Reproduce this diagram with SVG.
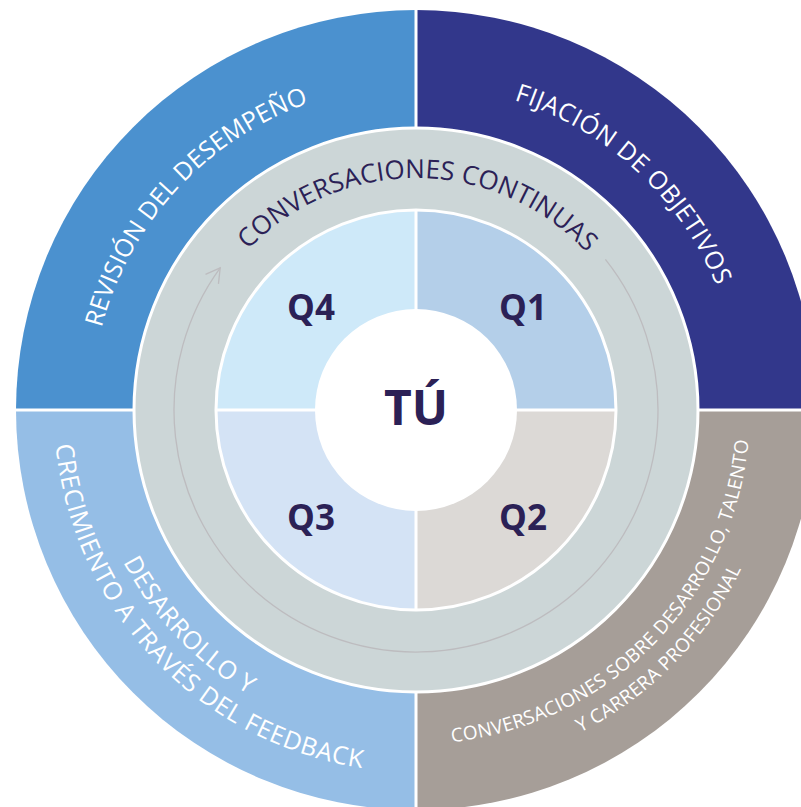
<svg xmlns="http://www.w3.org/2000/svg" width="801" height="807" viewBox="0 0 801 807">
<style>
.outer{font-family:"Open Sans","Noto Sans",sans-serif;font-size:25px;fill:#ffffff;}
.small{font-size:19px;letter-spacing:0.3px;}
.wide{letter-spacing:0.6px;}
.ring{font-family:"Open Sans","Noto Sans",sans-serif;font-size:26px;fill:#2b2156;}
.q{font-family:"Open Sans","Noto Sans",sans-serif;font-weight:bold;font-size:35px;fill:#2b2156;text-anchor:middle;}
.sep{stroke:#ffffff;stroke-width:3;fill:none;}
</style>
<defs>
<path id="pRev" d="M91.4,394.7 A325,325 0 0 1 374.7,87.6"/>
<path id="pFij" d="M442.1,86.0 A325,325 0 0 1 736.6,356.9"/>
<path id="pConv" d="M216.1,292.3 A232,232 0 0 1 617.9,295.8"/>
<path id="pDes1" d="M103.1,514.7 A330,330 0 0 0 295.1,717.0"/>
<path id="pDes2" d="M54.1,400.5 A362,362 0 0 0 406.5,771.9"/>
<path id="pCar1" d="M413.1,744.0 A334,334 0 0 0 749.9,401.3"/>
<path id="pCar2" d="M536.8,751.2 A362,362 0 0 0 759.3,524.9"/>
<marker id="chev" markerUnits="userSpaceOnUse" viewBox="-17 -11 19 22" markerWidth="19" markerHeight="22" refX="0" refY="0" orient="auto">
<path d="M-14,-8 L0,0 L-14,8" fill="none" stroke="#bdbcbf" stroke-width="1.3"/>
</marker>
</defs>
<rect width="801" height="807" fill="#ffffff"/>

<g id="sector-revision">
<path d="M416,410 L16,410 A400,400 0 0 1 416,10 Z" fill="#4b91cf"/>
<text class="outer" text-anchor="middle"><textPath href="#pRev" startOffset="50%">REVISIÓN DEL DESEMPEÑO</textPath></text>
</g>
<g id="sector-fijacion">
<path d="M416,410 L416,10 A400,400 0 0 1 816,410 Z" fill="#32378b"/>
<text class="outer" text-anchor="middle" style="letter-spacing:0.5px"><textPath href="#pFij" startOffset="50%">FIJACIÓN DE OBJETIVOS</textPath></text>
</g>
<g id="sector-desarrollo">
<path d="M416,410 L416,810 A400,400 0 0 1 16,410 Z" fill="#95bee6"/>
<text class="outer wide" text-anchor="middle"><textPath href="#pDes1" startOffset="50%">DESARROLLO Y</textPath></text>
<text class="outer wide" text-anchor="middle"><textPath href="#pDes2" startOffset="50%">CRECIMIENTO A TRAVÉS DEL FEEDBACK</textPath></text>
</g>
<g id="sector-carrera">
<path d="M416,410 L816,410 A400,400 0 0 1 416,810 Z" fill="#a69e98"/>
<text class="outer small" text-anchor="middle"><textPath href="#pCar1" startOffset="50%">CONVERSACIONES SOBRE DESARROLLO, TALENTO</textPath></text>
<text class="outer small" text-anchor="middle"><textPath href="#pCar2" startOffset="50%">Y CARRERA PROFESIONAL</textPath></text>
</g>
<path class="sep" d="M416,0 V807 M0,410 H801"/>

<g id="ring-conversaciones">
<circle cx="416" cy="410" r="282" fill="#ccd6d7" stroke="#ffffff" stroke-width="3"/>
<text class="ring" text-anchor="middle"><textPath href="#pConv" startOffset="50%">CONVERSACIONES CONTINUAS</textPath></text>
</g>

<g id="q4">
<path d="M416,410 L217,410 A199,199 0 0 1 416,211 Z" fill="#cee9f9"/>
<text class="q" x="311" y="320">Q4</text>
</g>
<g id="q1">
<path d="M416,410 L416,211 A199,199 0 0 1 615,410 Z" fill="#b4cfe9"/>
<text class="q" x="523" y="320">Q1</text>
</g>
<g id="q3">
<path d="M416,410 L416,609 A199,199 0 0 1 217,410 Z" fill="#d4e3f5"/>
<text class="q" x="311" y="530">Q3</text>
</g>
<g id="q2">
<path d="M416,410 L615,410 A199,199 0 0 1 416,609 Z" fill="#dcd9d6"/>
<text class="q" x="523" y="530">Q2</text>
</g>
<circle class="sep" cx="416" cy="410" r="200"/>
<path class="sep" d="M416,210 V610 M216,410 H616"/>

<g id="center-tu">
<circle cx="416" cy="410" r="101" fill="#ffffff"/>
<text class="q" x="416" y="425" style="font-size:48px">TÚ</text>
</g>

<g id="connectors">
<path d="M605.4,259.4 A242,242 0 1 1 220.2,267.8" fill="none" stroke="#bdbcbf" stroke-width="1.3" marker-end="url(#chev)"/>
</g>
</svg>
